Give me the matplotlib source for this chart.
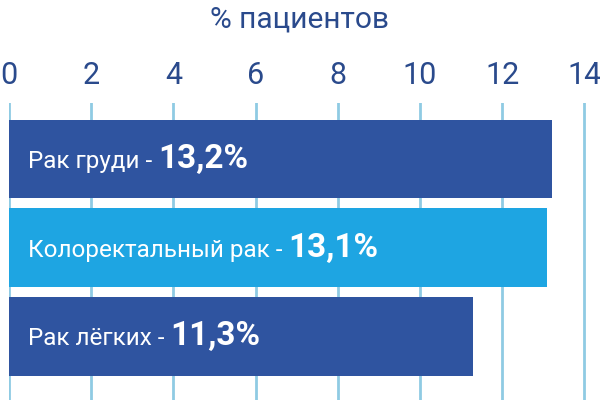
import matplotlib
matplotlib.use("Agg")
import matplotlib.pyplot as plt
from matplotlib.transforms import offset_copy

categories = ["Рак груди", "Колоректальный рак", "Рак лёгких"]
values = [13.2, 13.1, 11.3]
value_labels = ["13,2%", "13,1%", "11,3%"]
ticks = [0, 2, 4, 6, 8, 10, 12, 14]
title = "% пациентов"

colors = ["#2f54a0", "#1ea5e2", "#2f54a0"]
text_dark = "#2a4a8c"
grid_col = "#8fcbe3"

plt.rcParams['font.family'] = ['Roboto', 'DejaVu Sans']

fig = plt.figure(figsize=(6, 4), dpi=100)
ax = fig.add_axes([9/600, 0, 591/600, 297/400])
ypos = list(range(len(categories)))
ax.barh(ypos, values, height=0.89, color=colors, zorder=2)
ax.set_xlim(0, 14.38)
ax.set_ylim(2.72, -0.633)
ax.set_yticks([])
ax.set_xticks(ticks)
ax.set_xticklabels([str(t) for t in ticks])
ax.xaxis.tick_top()
ax.tick_params(axis='x', length=0, pad=9, labelsize=22, labelcolor=text_dark)
ax.grid(axis='x', color=grid_col, linewidth=2, zorder=0)
ax.set_axisbelow(True)
for s in ax.spines.values():
    s.set_visible(False)

fig.text(0.5, 1 - 19/400, title, ha='center', va='center', fontsize=21.5, color=text_dark)

fig.canvas.draw()
renderer = fig.canvas.get_renderer()
for y, cat, lab in zip(ypos, categories, value_labels):
    t1 = ax.text(0.46, y + 0.1, cat + " - ", color='white', fontsize=17.5,
                 va='baseline', ha='left', zorder=3)
    bb = t1.get_window_extent(renderer=renderer)
    w = bb.width * 72 / fig.dpi
    tr = offset_copy(ax.transData, fig=fig, x=w, y=0, units='points')
    ax.text(0.46, y + 0.1, lab, color='white', fontsize=24, fontweight='bold',
            va='baseline', ha='left', transform=tr, zorder=3)

fig.savefig("out.png", dpi=100)
